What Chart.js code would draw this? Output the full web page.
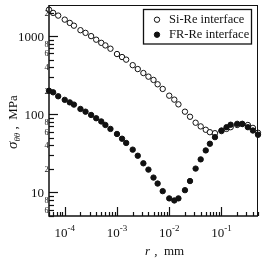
<!DOCTYPE html>
<html>
<head>
<meta charset="utf-8">
<script src="https://cdn.jsdelivr.net/npm/chart.js@4/dist/chart.umd.min.js"></script>
<style>
  html, body { margin: 0; padding: 0; background: #fff; }
  #wrap { width: 263px; height: 258px; }
</style>
</head>
<body>
<div id="wrap"><canvas id="stressChart" width="263" height="258"></canvas></div>
<script>
// r, mm
const radius = [
    5e-5, 6e-5, 7.5e-5,
    1e-4, 1.25e-4, 1.5e-4, 2e-4, 2.5e-4, 3.2e-4, 4e-4, 5e-4, 6e-4, 7.5e-4,
    1e-3, 1.25e-3, 1.5e-3, 2e-3, 2.5e-3, 3.2e-3, 4e-3, 5e-3, 6e-3, 7.5e-3,
    1e-2, 1.25e-2, 1.5e-2, 2e-2, 2.5e-2, 3.2e-2, 4e-2, 5e-2, 6e-2, 7.5e-2,
    0.1, 0.125, 0.15, 0.2, 0.25, 0.32, 0.4, 0.5
];
// sigma_theta_theta, MPa
const siRe = [
    2180, 1980, 1830,
    1625, 1475, 1360, 1190, 1100, 1000, 900, 820, 760, 690,
    590, 540, 500, 425, 379, 337, 303, 275, 242, 211,
    173, 154, 134, 108, 93, 78, 70, 63.4, 59, 57.3,
    61, 65, 68.4, 73, 75, 73, 67, 58
];
const frRe = [
    200, 191, 170,
    153, 142, 133, 117, 108, 98, 89, 81, 73, 65,
    56, 48.7, 43, 35.3, 29.5, 23.6, 19.6, 15.5, 13, 10.4,
    8.4, 7.9, 8.4, 10.7, 14, 20.2, 26.5, 34.5, 42, 51,
    62, 68.4, 73.5, 75.5, 75.5, 68.4, 62, 54.7
];
const seriesNames = ['Si-Re interface', 'FR-Re interface'];
const xExponents = [-4, -3, -2, -1];
const yMajor = [10, 100, 1000];
const yMinorLabeled = [2, 4, 6, 8];

const serif = '"Liberation Serif", "DejaVu Serif", serif';

const toPoints = ys => radius.map((r, i) => ({ x: r, y: ys[i] }));

const axesPlugin = {
    id: 'axesPlugin',
    afterDraw(chart) {
        const ctx = chart.ctx;
        const area = chart.chartArea;
        const xs = chart.scales.x;
        const ys = chart.scales.y;
        ctx.save();
        ctx.strokeStyle = '#111';
        ctx.fillStyle = '#111';

        // frame
        ctx.lineWidth = 1;
        ctx.beginPath();
        ctx.moveTo(area.left, area.top + 0.5);
        ctx.lineTo(area.right, area.top + 0.5);
        ctx.moveTo(area.right - 0.5, area.top);
        ctx.lineTo(area.right - 0.5, area.bottom);
        ctx.stroke();
        ctx.lineWidth = 1.5;
        ctx.beginPath();
        ctx.moveTo(area.left, area.top);
        ctx.lineTo(area.left, area.bottom);
        ctx.lineTo(area.right, area.bottom);
        ctx.stroke();

        // y ticks and labels
        ctx.lineWidth = 1.2;
        ctx.textAlign = 'right';
        ctx.textBaseline = 'middle';
        [1, 10, 100, 1000].forEach(d => {
            for (let m = 1; m <= 9; m++) {
                const v = m * d;
                if (v < ys.min || v > ys.max) continue;
                const py = Math.round(ys.getPixelForValue(v)) + 0.5;
                const len = m === 1 ? 9 : 5;
                ctx.beginPath();
                ctx.moveTo(area.left, py);
                ctx.lineTo(area.left + len, py);
                ctx.stroke();
                if (m === 1 && yMajor.includes(v)) {
                    ctx.font = '13px ' + serif;
                    ctx.fillText(String(v), area.left - 5, py + 1);
                } else if (yMinorLabeled.includes(m)) {
                    ctx.font = '8px ' + serif;
                    ctx.fillText(String(m), area.left - 0.5, py + 0.5);
                }
            }
        });

        // x ticks
        for (let e = -5; e <= -1; e++) {
            for (let m = 1; m <= 9; m++) {
                const v = m * Math.pow(10, e);
                if (v < xs.min * 0.999 || v > xs.max * 1.001) continue;
                const px = Math.round(xs.getPixelForValue(v)) + 0.5;
                const len = m === 1 ? 9 : 4;
                ctx.beginPath();
                ctx.moveTo(px, area.bottom);
                ctx.lineTo(px, area.bottom - len);
                ctx.stroke();
            }
        }
        // x labels 10^n
        ctx.textBaseline = 'alphabetic';
        xExponents.forEach(e => {
            const px = xs.getPixelForValue(Math.pow(10, e));
            ctx.font = '13px ' + serif;
            const baseW = ctx.measureText('10').width;
            ctx.font = '9px ' + serif;
            const sup = String(e);
            const supW = ctx.measureText(sup).width;
            const x0 = px - (baseW + supW) / 2;
            ctx.textAlign = 'left';
            ctx.font = '13px ' + serif;
            ctx.fillText('10', x0, 237);
            ctx.font = '9px ' + serif;
            ctx.fillText(sup, x0 + baseW, 231);
        });

        // x title
        ctx.textAlign = 'left';
        ctx.font = 'italic 13px ' + serif;
        ctx.fillText('r', 145, 255);
        ctx.font = '13px ' + serif;
        ctx.fillText(' ,  mm', 151, 255);

        // y title (rotated)
        ctx.save();
        ctx.translate(17, 149);
        ctx.rotate(-Math.PI / 2);
        ctx.font = 'italic 15px ' + serif;
        ctx.fillText('\u03c3', 0, 0);
        let w = ctx.measureText('\u03c3').width;
        ctx.font = 'italic 9px ' + serif;
        ctx.fillText('\u03b8\u03b8', w, 3);
        w += ctx.measureText('\u03b8\u03b8').width;
        ctx.font = '13px ' + serif;
        ctx.fillText(' ,  MPa', w, 0);
        ctx.restore();

        // legend
        ctx.lineWidth = 1.3;
        ctx.strokeRect(143.5, 9.5, 108, 34.5);
        const rows = [19.7, 34.7];
        chart.data.datasets.forEach((ds, i) => {
            ctx.beginPath();
            ctx.arc(157, rows[i], ds.pointRadius, 0, Math.PI * 2);
            ctx.fillStyle = ds.backgroundColor;
            ctx.fill();
            ctx.lineWidth = ds.borderWidth;
            ctx.strokeStyle = ds.borderColor;
            ctx.stroke();
            ctx.fillStyle = '#111';
            ctx.font = '12.5px ' + serif;
            ctx.textAlign = 'left';
            ctx.textBaseline = 'middle';
            ctx.fillText(ds.label, 169, rows[i] + 0.5);
        });
        ctx.restore();
    }
};

function renderChart() {
    const ctx = document.getElementById('stressChart').getContext('2d');
    new Chart(ctx, {
        type: 'scatter',
        data: {
            datasets: [{
                label: seriesNames[0],
                data: toPoints(siRe),
                backgroundColor: '#ffffff',
                borderColor: '#111111',
                borderWidth: 1,
                pointRadius: 2.7,
                order: 1,
                clip: false
            }, {
                label: seriesNames[1],
                data: toPoints(frRe),
                backgroundColor: '#111111',
                borderColor: '#111111',
                borderWidth: 1,
                pointRadius: 2.7,
                order: 0,
                clip: false
            }]
        },
        options: {
            responsive: false,
            animation: false,
            layout: {
                padding: { left: 49, top: 4, right: 1, bottom: 42 }
            },
            plugins: {
                legend: { display: false },
                tooltip: { enabled: false }
            },
            scales: {
                x: { type: 'logarithmic', min: 5e-5, max: 0.5, display: false },
                y: { type: 'logarithmic', min: 5, max: 2500, display: false }
            }
        },
        plugins: [axesPlugin]
    });
}

renderChart();
</script>
</body>
</html>
